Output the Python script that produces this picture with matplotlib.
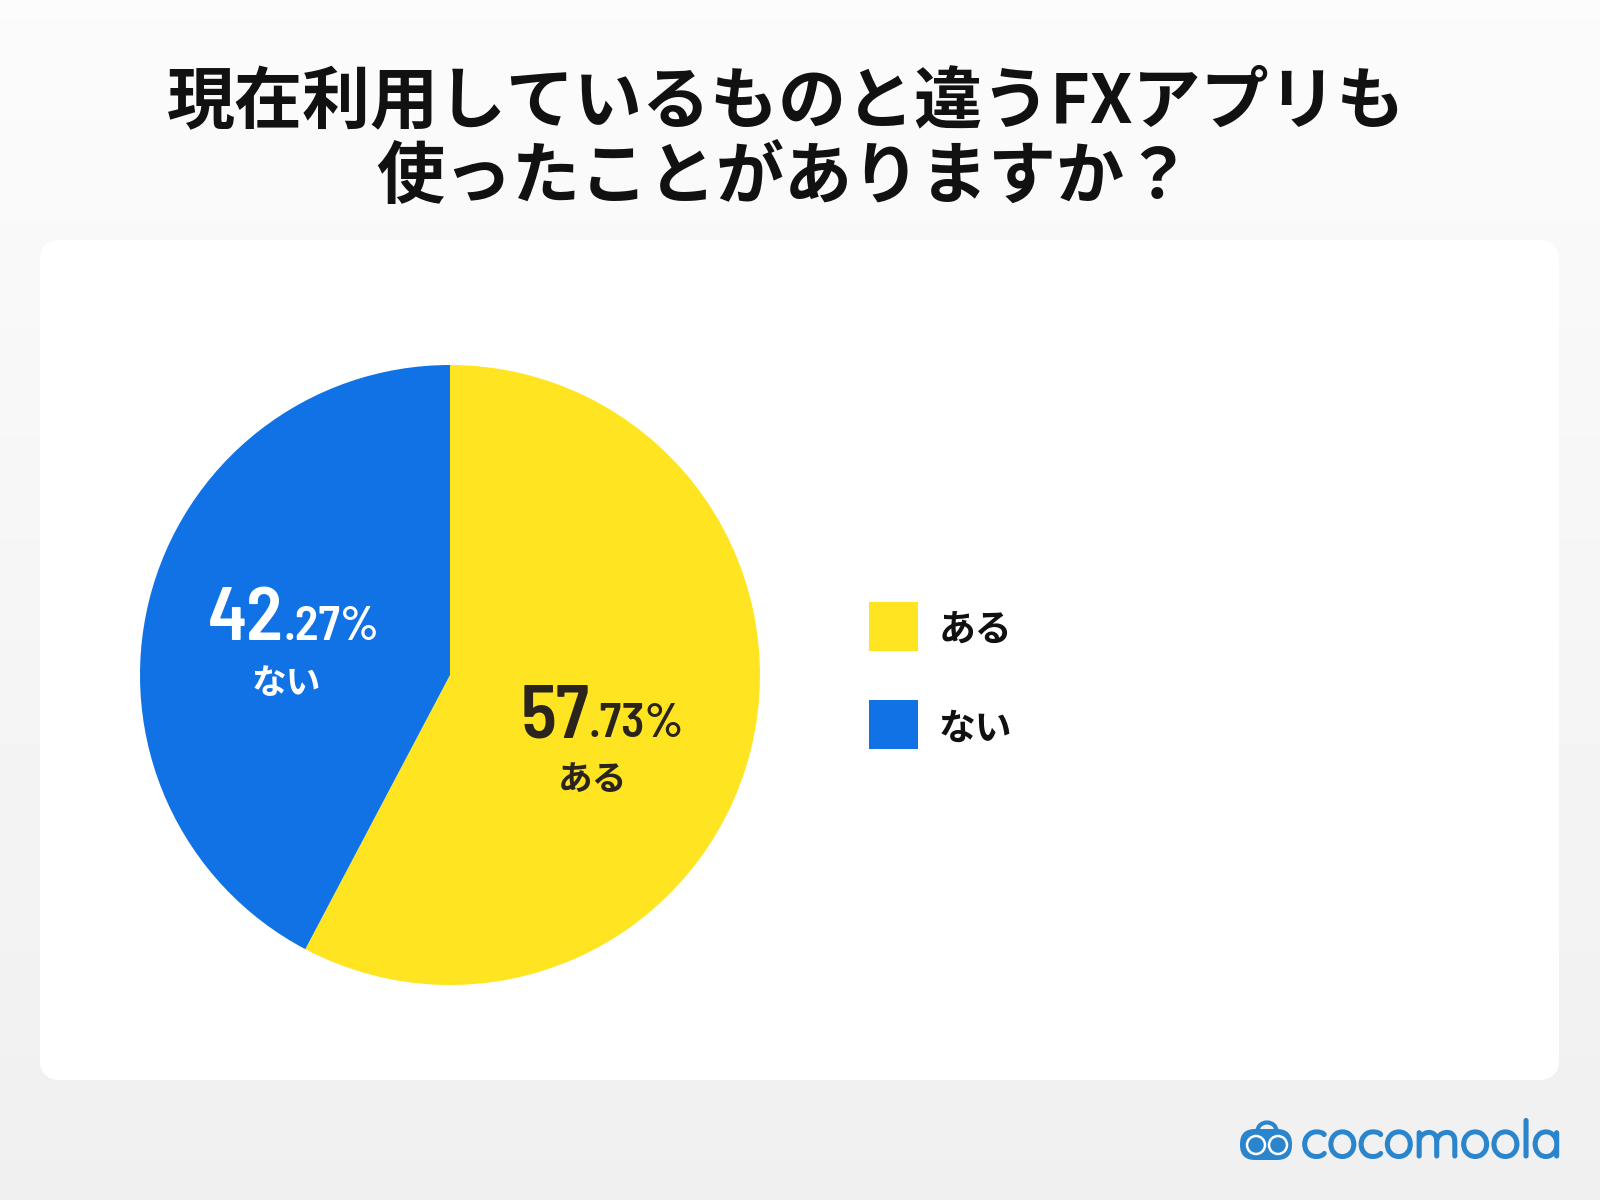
import matplotlib
matplotlib.use('Agg')
import matplotlib.pyplot as plt
import matplotlib.patheffects as pe
from matplotlib.patches import FancyBboxPatch, Circle, Arc, Rectangle
import numpy as np

title_lines = ['現在利用しているものと違うFXアプリも', '使ったことがありますか？']
categories = ['ある', 'ない']
values = [57.73, 42.27]
colors = ['#FFE521', '#1072E4']
label_colors = ['#2B241C', '#FFFFFF']
brand = 'cocomoola'

JP = 'Noto Sans CJK JP'
NUM = ['Barlow Semi Condensed', 'Liberation Sans', 'Noto Sans CJK JP']
LOGO_FONT = ['Quicksand', 'DejaVu Sans']

fig = plt.figure(figsize=(16, 12), dpi=100)


def pixel_axes():
    # full figure axes, coordinates are pixels of the image
    a = fig.add_axes([0, 0, 1, 1])
    a.set_xlim(0, 1600)
    a.set_ylim(1200, 0)
    a.axis('off')
    return a


bg = pixel_axes()
grad = np.linspace(0.985, 0.94, 256).reshape(-1, 1)
bg.imshow(grad, extent=[0, 1600, 1200, 0], cmap='gray', vmin=0, vmax=1, aspect='auto', zorder=0)
bg.add_patch(FancyBboxPatch((40, 240), 1519, 840, boxstyle='round,pad=0,rounding_size=20',
                            fc='white', ec='none', zorder=1))

bg.text(786, 103, title_lines[0], family=JP, weight='bold', fontsize=49, ha='center', va='center',
        color='#111111', zorder=3)
bg.text(784, 178, title_lines[1], family=JP, weight='bold', fontsize=49, ha='center', va='center',
        color='#111111', zorder=3)

# legend
for i, (cat, col) in enumerate(zip(categories, colors)):
    y = 602 + i * 98
    bg.add_patch(Rectangle((869, y), 49, 49, fc=col, ec='none', zorder=2))
    bg.text(939, y + 29, cat, family=JP, weight='bold', fontsize=26.5, ha='left', va='center',
            color='#111111', zorder=3)

# logo
logo = '#2A85CC'
bg.add_patch(FancyBboxPatch((1240, 1129), 52, 31, boxstyle='round,pad=0,rounding_size=15',
                            fc=logo, ec='none', zorder=2))
bg.add_patch(Arc((1267, 1131), 19, 17, theta1=180, theta2=360, ec=logo, lw=3, zorder=2))
for ex in (1256, 1278):
    bg.add_patch(Circle((ex, 1145), 9, fc=logo, ec='white', lw=1.8, zorder=3))
# the rounded font only comes in a light cut here, so thicken it with a stroke
bg.text(1301, 1157, brand, family=LOGO_FONT, fontsize=36.5, ha='left', va='baseline', color=logo, zorder=3,
        path_effects=[pe.withStroke(linewidth=2.2, foreground=logo)])

# pie
cx, cy, r = 450, 675, 310
ax = fig.add_axes([(cx - r) / 1600, (1200 - cy - r) / 1200, 2 * r / 1600, 2 * r / 1200])
ax.patch.set_alpha(0)
ax.pie(values, colors=colors, startangle=90, counterclock=False, radius=1)
ax.set_xlim(-1, 1)
ax.set_ylim(-1, 1)
ax.axis('off')

# value labels go on a layer above the pie
top = pixel_axes()
top.patch.set_alpha(0)
joints = [(589, 737), (284, 640)]
cat_pos = [(593, 780), (286, 683)]
for v, cat, col, (jx, by), (lx, ly) in zip(values, categories, label_colors, joints, cat_pos):
    whole, dec = f'{v:.2f}'.split('.')
    top.text(jx, by, whole, family=NUM, weight='semibold', fontsize=54, ha='right', va='baseline', color=col)
    top.text(jx, by, f'.{dec}%', family=NUM, weight='semibold', fontsize=35, ha='left', va='baseline', color=col)
    top.text(lx, ly, cat, family=JP, weight='bold', fontsize=25, ha='center', va='center', color=col)

fig.savefig('out.png', dpi=100)
